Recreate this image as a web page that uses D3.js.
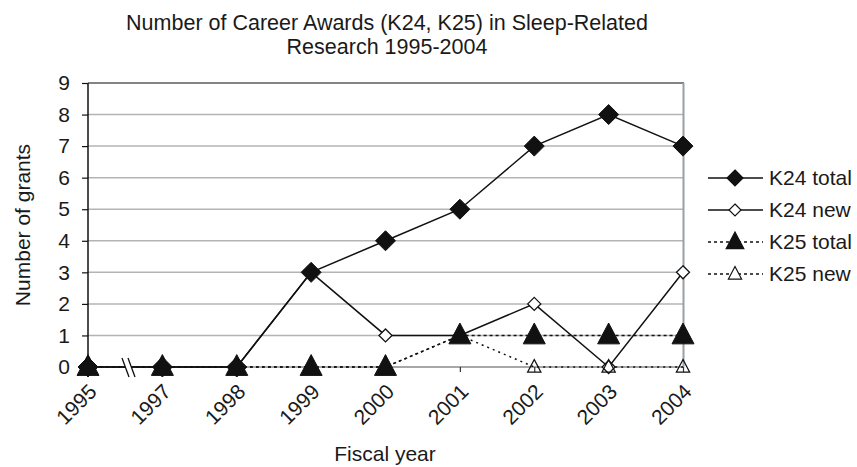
<!DOCTYPE html>
<html><head><meta charset="utf-8">
<script src="https://cdn.jsdelivr.net/npm/d3@7"></script>
<style>
html,body{margin:0;padding:0;background:#fff;}
svg text{font-family:"Liberation Sans",Arial,Helvetica,sans-serif;fill:#1a1a1a;}
</style></head>
<body><svg id="c" width="857" height="467"></svg>
<script>
const years = ["1995","1997","1998","1999","2000","2001","2002","2003","2004"];
const k24Total = [0,0,0,3,4,5,7,8,7];
const k24New   = [0,0,0,3,1,1,2,0,3];
const k25Total = [0,0,0,0,0,1,1,1,1];
const k25New   = [0,0,0,0,0,1,0,0,0];
const yTicks = [0,1,2,3,4,5,6,7,8,9];
const seriesNames = ["K24 total","K24 new","K25 total","K25 new"];

const svg = d3.select("#c");
const x = d3.scalePoint().domain(years).range([88, 683]);
const y = d3.scaleLinear().domain([0, 9]).range([367, 83]);
const FS = 21;

// title
svg.append("text").attr("x", 387).attr("y", 30).attr("text-anchor","middle").attr("font-size",21.5)
  .text("Number of Career Awards (K24, K25) in Sleep-Related");
svg.append("text").attr("x", 387).attr("y", 54).attr("text-anchor","middle").attr("font-size",21.5)
  .text("Research 1995-2004");

// gridlines
svg.append("g").selectAll("line").data(yTicks.filter(d => d > 0 && d < 9)).join("line")
  .attr("x1", 88).attr("x2", 683).attr("y1", d => y(d)).attr("y2", d => y(d))
  .attr("stroke", "#b4b4b4").attr("stroke-width", 1.5);
// top border and right border
svg.append("line").attr("x1",88).attr("x2",684).attr("y1",y(9)).attr("y2",y(9)).attr("stroke","#5a5a5a").attr("stroke-width",1.5);
svg.append("line").attr("x1",683.5).attr("x2",683.5).attr("y1",y(9)).attr("y2",y(0)).attr("stroke","#9aa0a6").attr("stroke-width",2);

// x axis (grey baseline with ticks)
const xAxis = d3.axisBottom(x).tickSize(5).tickFormat("");
const gx = svg.append("g").attr("transform", `translate(0,${y(0)})`).call(xAxis);
gx.select(".domain").attr("stroke", "#8a8a8a").attr("stroke-width", 1.5).attr("d", `M88,0H683`);
gx.selectAll(".tick line").attr("stroke", "#333").attr("stroke-width", 1.2);

// x tick labels rotated
svg.append("g").selectAll("text").data(years).join("text")
  .attr("transform", d => `translate(${x(d)+10},${y(0)+26}) rotate(-45)`)
  .attr("text-anchor","end").attr("font-size",FS).text(d => d);

// y axis
const yAxis = d3.axisLeft(y).tickValues(yTicks).tickSize(6).tickPadding(12);
const gy = svg.append("g").attr("transform", "translate(88,0)").call(yAxis);
gy.select(".domain").attr("stroke", "#111").attr("stroke-width", 1.5).attr("d", `M0,${y(0)}V${y(9)}`);
gy.selectAll(".tick line").attr("stroke", "#111").attr("stroke-width", 1.2);
gy.selectAll(".tick text").attr("font-size", FS).attr("font-family", "Liberation Sans, Arial, sans-serif").attr("fill","#1a1a1a");

// axis titles
svg.append("text").attr("transform", "translate(30,225) rotate(-90)").attr("text-anchor","middle")
  .attr("font-size",FS).text("Number of grants");
svg.append("text").attr("x", 385).attr("y", 461).attr("text-anchor","middle").attr("font-size",FS).text("Fiscal year");

// markers
const diamond = r => `M0,${-r}L${r},0L0,${r}L${-r},0Z`;
const triangle = s => `M0,${-s*0.62}L${s*0.55},${s*0.42}L${-s*0.55},${s*0.42}Z`;

const series = [
  {name: seriesNames[1], vals: k24New, dash: null, path: diamond(6.5), fill: "#fff", stroke: "#111", sw: 1.3},
  {name: seriesNames[0], vals: k24Total, dash: null, path: diamond(10), fill: "#111", stroke: "#111", sw: 1},
  {name: seriesNames[3], vals: k25New, dash: "2,4", path: triangle(12), fill: "none", stroke: "#111", sw: 1.3},
  {name: seriesNames[2], vals: k25Total, dash: "3,3", path: triangle(20), fill: "#111", stroke: "#111", sw: 1},
];
const line = d3.line().x((d,i) => x(years[i])).y(d => y(d));

series.forEach(s => {
  svg.append("path").datum(s.vals).attr("d", line).attr("fill","none")
    .attr("stroke","#111").attr("stroke-width",1.5).attr("stroke-dasharray", s.dash);
});
series.forEach(s => {
  svg.append("g").selectAll("path").data(s.vals).join("path")
    .attr("transform", (d,i) => `translate(${x(years[i])},${y(d)})`)
    .attr("d", s.path).attr("fill", s.fill).attr("stroke", s.stroke).attr("stroke-width", s.sw);
});

// axis break marks between 1995 and 1997
const bx = 122, by = y(0);
svg.append("polygon").attr("points", `${bx},${by-9} ${bx+6},${by-9} ${bx+13},${by+10} ${bx+7},${by+10}`)
  .attr("fill","#fff");
[0, 6].forEach(o => {
  svg.append("line").attr("x1", bx+o).attr("y1", by-9).attr("x2", bx+o+7).attr("y2", by+10)
    .attr("stroke","#111").attr("stroke-width",1.3);
});

// legend
const legendRows = [
  {name: seriesNames[0], dash: null, path: diamond(8), fill: "#111"},
  {name: seriesNames[1], dash: null, path: diamond(6), fill: "#fff"},
  {name: seriesNames[2], dash: "3,3", path: triangle(16), fill: "#111"},
  {name: seriesNames[3], dash: "3,3", path: triangle(12), fill: "#fff"},
];
const lg = svg.append("g");
legendRows.forEach((r, i) => {
  const ly = 178 + i * 32;
  lg.append("line").attr("x1", 708).attr("x2", 763).attr("y1", ly).attr("y2", ly)
    .attr("stroke","#111").attr("stroke-width",1.5).attr("stroke-dasharray", r.dash);
  lg.append("path").attr("transform", `translate(735,${ly})`).attr("d", r.path)
    .attr("fill", r.fill).attr("stroke","#111").attr("stroke-width",1.2);
  lg.append("text").attr("x", 769).attr("y", ly).attr("dy","0.35em").attr("font-size",FS).text(r.name);
});
</script></body></html>
